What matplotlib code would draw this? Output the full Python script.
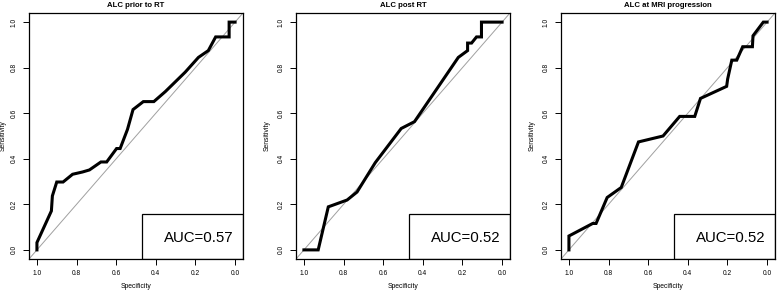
import matplotlib
matplotlib.use("Agg")
import matplotlib.pyplot as plt
from matplotlib import font_manager
from matplotlib.patches import Rectangle

# ROC curves (specificity, sensitivity)
titles = ["ALC prior to RT", "ALC post RT", "ALC at MRI progression"]
auc_labels = ["AUC=0.57", "AUC=0.52", "AUC=0.52"]

spec_prior = [1.0, 1.0, 0.927, 0.922, 0.90, 0.868, 0.82, 0.77, 0.735, 0.677, 0.648,
              0.598, 0.58, 0.543, 0.515, 0.463, 0.41, 0.352, 0.252, 0.185, 0.135,
              0.098, 0.03, 0.03, 0.0]
sens_prior = [0.0, 0.032, 0.171, 0.237, 0.298, 0.298, 0.332, 0.342, 0.351, 0.386, 0.386,
              0.445, 0.445, 0.529, 0.616, 0.651, 0.651, 0.695, 0.78, 0.845, 0.875,
              0.935, 0.935, 1.0, 1.0]

spec_post = [1.0, 0.928, 0.877, 0.782, 0.732, 0.64, 0.509, 0.442, 0.221, 0.174, 0.174,
             0.154, 0.129, 0.104, 0.104, 0.0]
sens_post = [0.0, 0.0, 0.189, 0.219, 0.254, 0.383, 0.533, 0.563, 0.845, 0.875, 0.908,
             0.908, 0.935, 0.935, 1.0, 1.0]

spec_mri = [1.0, 1.0, 0.88, 0.863, 0.807, 0.736, 0.649, 0.525, 0.441, 0.365, 0.336,
            0.204, 0.199, 0.178, 0.153, 0.123, 0.074, 0.071, 0.019, 0.0]
sens_mri = [0.0, 0.061, 0.116, 0.116, 0.23, 0.274, 0.474, 0.5, 0.586, 0.586, 0.665,
            0.718, 0.75, 0.833, 0.833, 0.892, 0.892, 0.94, 1.0, 1.0]

ticks = [1.0, 0.8, 0.6, 0.4, 0.2, 0.0]
tick_labels = ["1.0", "0.8", "0.6", "0.4", "0.2", "0.0"]

try:
    font_manager.findfont("Liberation Sans Narrow", fallback_to_default=False)
    auc_font, auc_size = "Liberation Sans Narrow", 13
except Exception:
    auc_font, auc_size = "Liberation Sans", 10.8

plt.rcParams["font.family"] = ["Liberation Sans", "DejaVu Sans"]

fig = plt.figure(figsize=(7.78, 2.95), dpi=100)
lefts = [29 / 778, 296 / 778, 561 / 778]
ylabel_x = [7, 271, 536]
curves = [(spec_prior, sens_prior), (spec_post, sens_post), (spec_mri, sens_mri)]

for i, (spec, sens) in enumerate(curves):
    ax = fig.add_axes([lefts[i], 1 - 259 / 295, 214 / 778, 246 / 295])
    ax.set_xlim(1.04, -0.04)
    ax.set_ylim(-0.04, 1.04)
    ax.axline((1, 0), (0, 1), color="#a0a0a0", lw=0.7, zorder=1)
    ax.plot(spec, sens, color="black", lw=2.2, solid_joinstyle="miter", zorder=3)

    ax.add_patch(Rectangle((0.528, 0), 0.472, 0.182, transform=ax.transAxes,
                           fill=False, edgecolor="black", lw=0.9, zorder=4))
    ax.text(0.955, 0.085, auc_labels[i], transform=ax.transAxes, ha="right",
            va="center", fontsize=auc_size, family=[auc_font, "Liberation Sans"])

    ax.set_xticks(ticks)
    ax.set_xticklabels(tick_labels)
    ax.set_yticks(ticks[::-1])
    ax.set_yticklabels(tick_labels[::-1], rotation=90, va="center")
    ax.tick_params(direction="out", length=4, width=0.7, labelsize=4.8, pad=4)
    for s in ax.spines.values():
        s.set_linewidth(0.9)

    ax.set_title(titles[i], fontsize=5.6, fontweight="bold", pad=4)
    ax.set_xlabel("Specificity", fontsize=4.9, labelpad=4)
    ax.set_ylabel("Sensitivity", fontsize=4.9)
    ax.yaxis.set_label_coords((ylabel_x[i] - lefts[i] * 778) / 214, 0.5)

fig.savefig("out.png", dpi=100)
